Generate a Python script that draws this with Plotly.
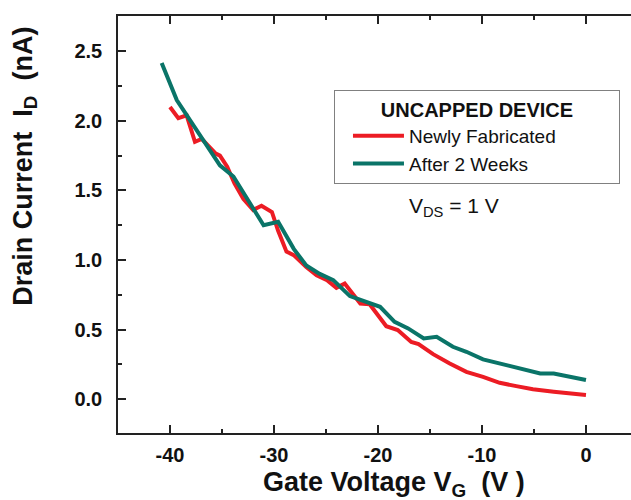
import plotly.graph_objects as go

# Newly Fabricated (red)
vg_new = [-40.0, -39.2, -38.4, -37.6, -36.95, -35.6, -35.2, -34.5, -33.8, -32.95, -32.0, -31.2,
          -30.2, -29.6, -28.8, -28.1, -26.9, -25.9, -24.9, -24.0, -23.2, -21.7, -20.8, -19.2,
          -18.1, -16.8, -16.1, -14.7, -13.1, -11.5, -9.9, -8.3, -6.7, -5.1, -3.1, 0.0]
id_new = [2.10, 2.02, 2.04, 1.85, 1.87, 1.765, 1.75, 1.67, 1.55, 1.44, 1.36, 1.39,
          1.345, 1.21, 1.06, 1.035, 0.95, 0.89, 0.855, 0.80, 0.83, 0.687, 0.682, 0.524,
          0.496, 0.41, 0.395, 0.323, 0.256, 0.196, 0.16, 0.117, 0.093, 0.07, 0.052, 0.029]

# After 2 Weeks (teal)
vg_old = [-40.8, -39.35, -35.2, -33.9, -31.0, -29.6, -28.1, -26.9, -25.6, -24.3, -22.7, -21.1,
          -19.8, -18.4, -17.1, -15.6, -14.36, -12.8, -11.5, -9.9, -8.3, -6.0, -4.4, -3.1,
          -1.86, 0.0]
id_old = [2.416, 2.15, 1.68, 1.60, 1.25, 1.275, 1.08, 0.96, 0.90, 0.855, 0.74, 0.70,
          0.663, 0.555, 0.508, 0.436, 0.448, 0.376, 0.34, 0.285, 0.256, 0.22, 0.184, 0.184,
          0.165, 0.137]

x_ticks = [-40, -30, -20, -10, 0]
y_ticks = [0.0, 0.5, 1.0, 1.5, 2.0, 2.5]

FONT = "Liberation Sans, Arial, sans-serif"

fig = go.Figure()
fig.add_trace(go.Scatter(x=vg_new, y=id_new, mode="lines", name="Newly Fabricated",
                         line=dict(color="#EC1C24", width=4)))
fig.add_trace(go.Scatter(x=vg_old, y=id_old, mode="lines", name="After 2 Weeks",
                         line=dict(color="#0A7468", width=4)))

axis_common = dict(showgrid=False, zeroline=False, showline=True, linecolor="#222",
                   linewidth=1.5, ticks="inside", ticklen=8, tickwidth=1.5, tickcolor="#222",
                   automargin=False,
                   tickfont=dict(family=FONT, size=20, color="#111", weight="bold"))

fig.update_xaxes(range=[-45, 4.33], tickvals=x_ticks, ticktext=[str(v) for v in x_ticks],
                 mirror="ticks", ticklabelstandoff=3,
                 minor=dict(dtick=5, tick0=0, ticks="inside", ticklen=4, tickwidth=1.5,
                            tickcolor="#222"),
                 **axis_common)
fig.update_yaxes(range=[-0.244, 2.754], tickvals=y_ticks,
                 ticktext=[f"{v:.1f}" for v in y_ticks], mirror=False,
                 ticklabelstandoff=10,
                 minor=dict(dtick=0.25, tick0=0, ticks="inside", ticklen=4, tickwidth=1.5,
                            tickcolor="#222"),
                 **axis_common)

fig.add_annotation(text="Drain Current  I<sub>D</sub>  (nA)", xref="paper", yref="paper",
                   x=-0.182, y=0.640, xanchor="center", yanchor="middle", textangle=-90,
                   showarrow=False,
                   font=dict(family=FONT, size=27, color="#111", weight="bold"))
fig.add_annotation(text="Gate Voltage V<sub>G</sub>  (V )", xref="paper", yref="paper",
                   x=0.538, y=-0.122, xanchor="center", yanchor="middle",
                   showarrow=False,
                   font=dict(family=FONT, size=27, color="#111", weight="bold"))
fig.add_annotation(text="V<sub>DS</sub> = 1 V", xref="paper", yref="paper",
                   x=0.655, y=0.542, xanchor="center", yanchor="middle",
                   showarrow=False, font=dict(family=FONT, size=21, color="#111"))

fig.update_layout(
    width=631, height=500,
    margin=dict(l=118, r=0, t=16, b=67, autoexpand=False),
    paper_bgcolor="white", plot_bgcolor="white",
    showlegend=True,
    legend=dict(x=0.421, y=0.8225, xanchor="left", yanchor="top",
                orientation="h", entrywidth=205, indentation=13,
                bordercolor="#808080", borderwidth=1, bgcolor="white",
                font=dict(family=FONT, size=19, color="#111"),
                itemwidth=51,
                title=dict(text="UNCAPPED DEVICE", side="top center",
                           font=dict(family=FONT, size=20, color="#111", weight="bold")),
                tracegroupgap=0),
)

fig.write_html("out.html", config={"displayModeBar": False})
with open("out.html", "r", encoding="utf-8") as f:
    html = f.read()
html = html.replace("<body>", '<body style="margin:0;padding:0;overflow:hidden">', 1)
html = html.replace("<head>", "<head><style>html,body{margin:0;padding:0;}</style>", 1)
with open("out.html", "w", encoding="utf-8") as f:
    f.write(html)
